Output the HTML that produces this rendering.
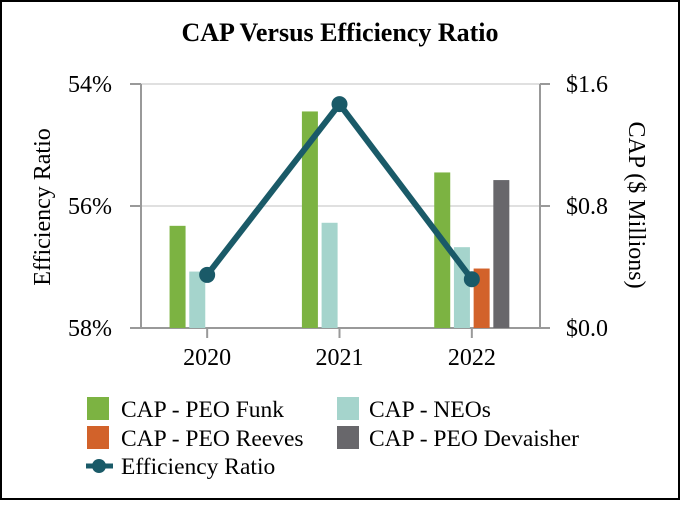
<!DOCTYPE html>
<html><head><meta charset="utf-8"><style>
body{margin:0;background:#fff;}
svg text{font-family:"Liberation Serif","Times New Roman",serif;fill:#000;}
</style></head><body>
<svg id="chart" width="680" height="500" xmlns="http://www.w3.org/2000/svg" font-family="Liberation Serif, Times New Roman, serif">
<rect x="1" y="1" width="678" height="498" fill="#fff" stroke="#000" stroke-width="2"/>
<text x="340" y="41" font-size="26" font-weight="bold" text-anchor="middle">CAP Versus Efficiency Ratio</text>
<text transform="translate(50,207) rotate(-90)" font-size="24" text-anchor="middle">Efficiency Ratio</text>
<text transform="translate(629,205) rotate(90)" font-size="24" text-anchor="middle">CAP ($ Millions)</text>
<g id="grid"></g><g id="bars"></g><g id="line"></g><g id="axes"></g>
<g>
<rect x="87" y="397" width="22" height="23" fill="#7cb342"/>
<text x="121" y="417" font-size="23.5">CAP - PEO Funk</text>
<rect x="337" y="397" width="22" height="23" fill="#a5d4cc"/>
<text x="369" y="417" font-size="23.5">CAP - NEOs</text>
<rect x="87" y="426" width="22" height="23" fill="#d2622a"/>
<text x="121" y="446" font-size="23.5">CAP - PEO Reeves</text>
<rect x="337" y="426" width="22" height="23" fill="#68676b"/>
<text x="369" y="446" font-size="23.5">CAP - PEO Devaisher</text>
<line x1="86" y1="466" x2="113" y2="466" stroke="#1a5a68" stroke-width="5"/>
<circle cx="99" cy="466" r="7" fill="#1a5a68"/>
<text x="121" y="474" font-size="23.5">Efficiency Ratio</text>
</g>
</svg>
<script>
const categories=["2020","2021","2022"];
const capFunk=[0.67,1.42,1.02];
const capNeos=[0.37,0.69,0.53];
const capReeves=[null,null,0.39];
const capDevaisher=[null,null,0.97];
const efficiency=[57.13,54.33,57.2];
const leftTicks=[54,56,58];
const rightTicks=[0,0.8,1.6];

const NS="http://www.w3.org/2000/svg";
const X0=141,X1=538,Y0=84,Y1=328;
const bw=(X1-X0)/categories.length;
const yCap=v=>Y1-(v/1.6)*(Y1-Y0);
const yEff=v=>Y0+(v-54)/4*(Y1-Y0);
const xCat=i=>X0+bw*(i+0.5);
function mk(tag,attrs,parent){const e=document.createElementNS(NS,tag);for(const k in attrs)e.setAttribute(k,attrs[k]);document.getElementById(parent).appendChild(e);return e;}

leftTicks.forEach((t,i)=>{
  const y=yEff(t);
  const g=mk('line',{x1:X0,x2:540,y1:y,y2:y,stroke:i==2?'#999':'#e0e0e0','stroke-width':2},'grid');
  
  
  const tk=mk('line',{x1:130,x2:X0,y1:y,y2:y,stroke:'#999','stroke-width':2},'axes');
  
  
  const tx=mk('text',{x:112,y:y+8,'font-size':24,'text-anchor':'end'},'axes');
  tx.textContent=t+'%';
  
  
});
rightTicks.forEach(t=>{
  const y=yCap(t);
  const tk=mk('line',{x1:540,x2:550,y1:y,y2:y,stroke:'#999','stroke-width':2},'axes');
  
  
  const tx=mk('text',{x:566,y:y+8,'font-size':24},'axes');
  tx.textContent='$'+t.toFixed(1);
  
  
});
let a=mk('line',{x1:X0,x2:X0,y1:Y0,y2:Y1,stroke:'#999','stroke-width':2},'axes');


a=mk('line',{x1:540,x2:540,y1:Y0,y2:Y1,stroke:'#999','stroke-width':2},'axes');


categories.forEach((c,i)=>{
  const x=xCat(i);
  const tk=mk('line',{x1:x,x2:x,y1:Y1,y2:Y1+10,stroke:'#999','stroke-width':2},'axes');
  
  
  const tx=mk('text',{x:x,y:Y1+37,'font-size':24,'text-anchor':'middle'},'axes');
  tx.textContent=c;
  
  
});
const series=[[capFunk,'#7cb342','funk'],[capNeos,'#a5d4cc','neos'],[capReeves,'#d2622a','reeves'],[capDevaisher,'#68676b','devaisher']];
const slot=19.7;
series.forEach((s,j)=>{
  s[0].forEach((v,i)=>{
    if(v==null)return;
    const x=xCat(i)-2*slot+j*slot+1.8;
    const r=mk('rect',{x:x,y:yCap(v),width:16,height:Y1-yCap(v),fill:s[1]},'bars');
    
    
  });
});
const pl=mk('polyline',{points:efficiency.map((v,i)=>xCat(i)+','+yEff(v)).join(' '),fill:'none',stroke:'#1a5a68','stroke-width':6,'stroke-linejoin':'round'},'line');


efficiency.forEach((v,i)=>{
  const c=mk('circle',{cx:xCat(i),cy:yEff(v),r:8,fill:'#1a5a68'},'line');
  
  
});
</script>
</body></html>
